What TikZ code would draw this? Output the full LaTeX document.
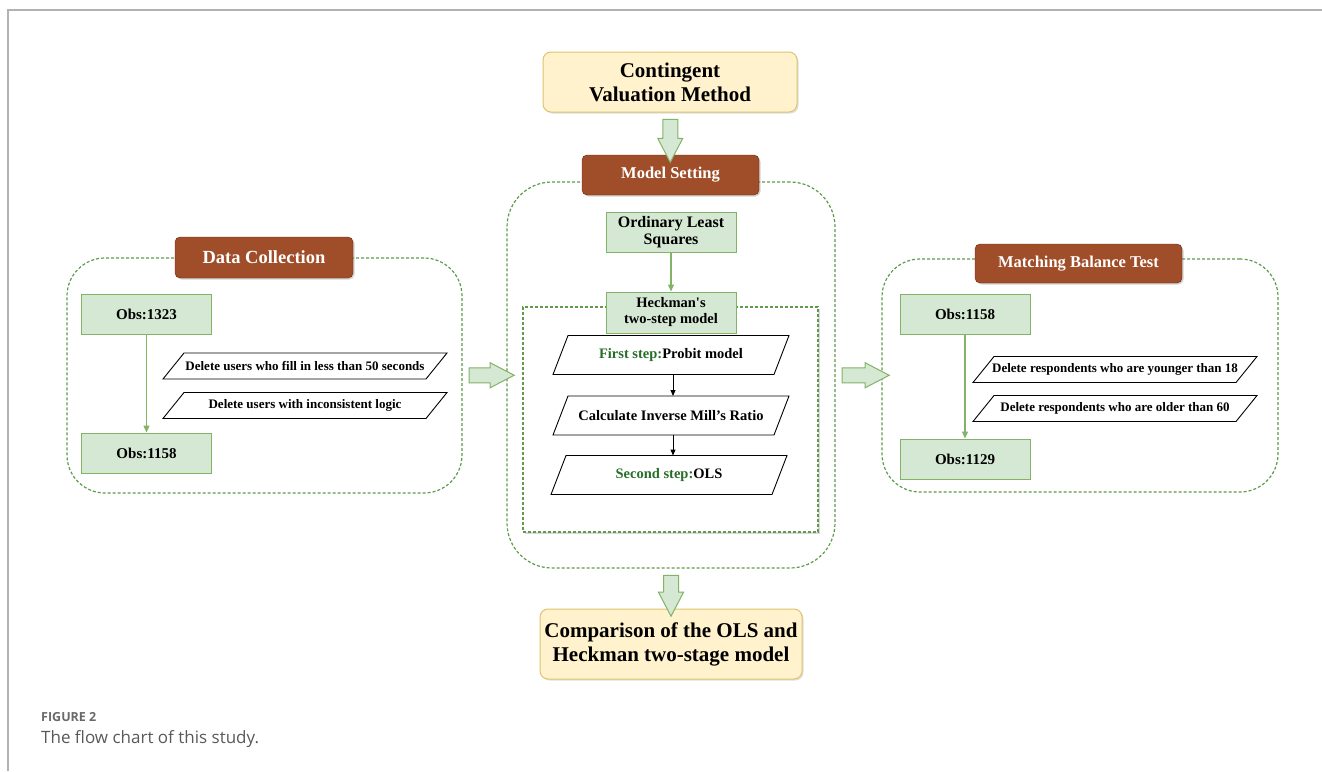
\documentclass[tikz,border=0pt]{standalone}
\usepackage{fontspec}
\setmainfont{Liberation Serif}
\newfontfamily\capfont{Open Sans}
\usetikzlibrary{shapes.arrows,shadows,arrows.meta}
\definecolor{brownfill}{RGB}{160,78,42}
\definecolor{brownline}{RGB}{105,38,12}
\definecolor{yelfill}{RGB}{255,242,204}
\definecolor{yelline}{RGB}{222,196,110}
\definecolor{grnfill}{RGB}{213,232,212}
\definecolor{grnline}{RGB}{130,179,102}
\definecolor{dashgrn}{RGB}{95,155,75}
\definecolor{stepgrn}{RGB}{40,110,40}
\definecolor{capgray}{RGB}{105,105,105}
\begin{document}
\begin{tikzpicture}[x=1pt,y=-1pt,
	every node/.style={align=center,inner sep=1pt},
	ttl/.style={draw=brownline,fill=brownfill,rounded corners=5pt,text=white,
		font=\bfseries\fontsize{16.5}{18}\selectfont,
		drop shadow={opacity=0.35,shadow xshift=1.5pt,shadow yshift=-1.5pt}},
	bigbox/.style={draw=yelline,fill=yelfill,rounded corners=8pt,line width=1pt,
		font=\bfseries\fontsize{21}{24}\selectfont,
		drop shadow={opacity=0.25,shadow xshift=1.5pt,shadow yshift=-1.5pt}},
	obsbox/.style={draw=grnline,fill=grnfill,line width=1pt,minimum width=130pt,minimum height=40pt,
		font=\bfseries\fontsize{15}{17}\selectfont},
	para/.style={inner sep=0pt,outer sep=0pt,
		append after command={\pgfextra{\draw[line width=0.9pt]
			([xshift=#1]\tikzlastnode.north west) -- (\tikzlastnode.north east)
			-- ([xshift=-#1]\tikzlastnode.south east) -- (\tikzlastnode.south west) -- cycle;}}},
	slant/.style={para=21pt,minimum width=284pt,minimum height=26pt,
		font=\bfseries\fontsize{13}{15}\selectfont},
	bigslant/.style={para=15pt,minimum width=236pt,minimum height=39pt,
		font=\bfseries\fontsize{14.5}{16}\selectfont},
	cont/.style={draw=dashgrn,line width=1.2pt,dash pattern=on 3pt off 2pt,rounded corners=38pt},
	blk/.style={shape=single arrow,draw=grnline,fill=grnfill,line width=1pt,inner xsep=0pt,inner ysep=7pt,
		single arrow head extend=5pt,single arrow tip angle=55},
	link/.style={draw=grnline,line width=1.2pt,-{Triangle[length=7pt,width=6pt]}},
	blink/.style={draw=black,line width=1pt,-{Triangle[length=6pt,width=5pt]}}
	]
	\useasboundingbox (0,0) rectangle (1322,771);
	\draw [gray!60,line width=1.5pt] (8,771) -- (8,10) -- (1322,10);

	\node [cont,minimum width=395pt,minimum height=235pt] (left) at (264.5,375.5) {};
	\node [cont,minimum width=328pt,minimum height=386pt,rounded corners=45pt] (mid) at (671,375) {};
	\node [cont,minimum width=396pt,minimum height=233pt] (right) at (1080,375.5) {};
	\node [draw=dashgrn,line width=1.2pt,dash pattern=on 3pt off 2pt,fill=white,
		minimum width=295pt,minimum height=225pt,
		drop shadow={opacity=0.3,shadow xshift=1.5pt,shadow yshift=-1.5pt}] (inner) at (670.5,419.5) {};

	\node [bigbox,minimum width=254pt,minimum height=60pt] (cvm) at (670,82) {Contingent\\Valuation Method};
	\node [ttl,minimum width=177pt,minimum height=40pt] (ms) at (670.5,175) {Model Setting};
	\node [ttl,minimum width=178pt,minimum height=41pt,font=\bfseries\fontsize{18.5}{20}\selectfont] (dc) at (264,257.5) {Data Collection};
	\node [ttl,minimum width=207pt,minimum height=39pt] (mbt) at (1078.5,263.5) {Matching Balance Test};

	\node [obsbox] (o1) at (146.5,314) {Obs:1323};
	\node [obsbox] (o2) at (146.5,453) {Obs:1158};
	\node [slant] (d1) at (305,366) {Delete users who fill in less than 50 seconds};
	\node [slant] (d2) at (305,405.5) {Delete users with inconsistent logic};
	\draw [link] (o1.south) -- (o2.north);

	\node [obsbox,minimum height=40pt,font=\bfseries\fontsize{16}{17}\selectfont] (ols) at (671,232) {Ordinary Least\\Squares};
	\node [obsbox,minimum height=41pt,font=\bfseries\fontsize{14.5}{16}\selectfont] (hk) at (671,312.5) {Heckman\textquotesingle s\\two-step model};
	\draw [link] (ols.south) -- (hk.north);
	\node [bigslant] (p1) at (671,355) {\textcolor{stepgrn}{First step:}Probit model};
	\node [bigslant] (p2) at (671,415.5) {Calculate Inverse Mill’s Ratio};
	\node [bigslant] (p3) at (669,475) {\textcolor{stepgrn}{Second step:}OLS};
	\draw [blink] ([xshift=2pt]p1.south) -- ([xshift=2pt]p1.south |- p2.north);
	\draw [blink] ([xshift=2pt]p2.south) -- ([xshift=2pt]p2.south |- p3.north);

	\node [obsbox] (r1) at (965,314) {Obs:1158};
	\node [obsbox] (r2) at (965,459) {Obs:1129};
	\node [slant] (rd1) at (1115,369.5) {Delete respondents who are younger than 18};
	\node [slant] (rd2) at (1115,408.5) {Delete respondents who are older than 60};
	\draw [link] (r1.south) -- (r2.north);

	\node [bigbox,minimum width=262pt,minimum height=70pt] (cmp) at (671,644) {Comparison of the OLS and\\Heckman two-stage model};

	\path (cvm.south) -- node [blk,rotate=-90,minimum height=43pt] {} (ms.north);
	\path (mid.south) -- node [blk,rotate=-90,minimum height=41pt] {} (cmp.north);
	\path (left.east) -- node [blk,minimum height=45pt] {} (mid.west);
	\path (mid.east) -- node [blk,minimum height=47pt] {} (right.west);

	\node [anchor=west,text=capgray,font=\capfont\fontsize{12.5}{14}\selectfont\bfseries] (fig) at (40,717) {FIGURE 2};
	\node [anchor=west,text=capgray!85!black,font=\capfont\fontsize{17}{19}\selectfont] (cap) at (40,739) {The flow chart of this study.};
\end{tikzpicture}
\end{document}
